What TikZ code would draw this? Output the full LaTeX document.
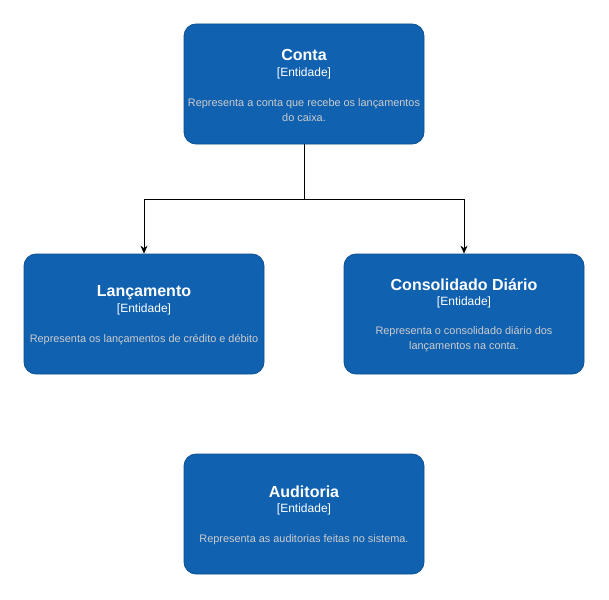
\documentclass[tikz,border=0pt]{standalone}
\usepackage{fontspec}
\setmainfont{Liberation Sans}
\usetikzlibrary{arrows.meta}
\definecolor{c4fill}{HTML}{1061B0}
\definecolor{c4line}{HTML}{0D5091}
\definecolor{c4desc}{HTML}{CCCCCC}
\tikzset{
  entity/.style={draw=c4line, fill=c4fill, rounded corners=12pt, minimum width=240pt, minimum height=120pt, inner sep=0pt, line width=0.8pt},
  title/.style={text=white, font=\fontsize{16}{19}\selectfont\bfseries, inner sep=0pt},
  kind/.style={text=white, font=\fontsize{12}{14}\selectfont, inner sep=0pt},
  desc/.style={text=c4desc, font=\fontsize{10.9}{15}\selectfont, align=center, inner sep=0pt},
  arr/.style={draw=black, line width=0.8pt, -{Stealth[length=8pt,width=7pt]}}
}
\begin{document}
\begin{tikzpicture}[x=1pt,y=-1pt]
\useasboundingbox (0,0) rectangle (609,599);
% boxes
\node[entity] (conta) at (304,84) {};
\node[entity] (lanc) at (144,314) {};
\node[entity] (cons) at (464,314) {};
\node[entity] (aud) at (304,514) {};
% Conta texts
\node[title] (contaT) at (304,55) {Conta};
\node[kind] (contaK) at (304,73) {[Entidade]};
\node[desc] (contaD) at (304,110) {Representa a conta que recebe os lançamentos\\do caixa.};
% Lancamento texts
\node[title] (lancT) at (144,293) {Lançamento};
\node[kind] (lancK) at (144,309.5) {[Entidade]};
\node[desc] (lancD) at (144,339.5) {Representa os lançamentos de crédito e débito};
% Consolidado texts
\node[title] (consT) at (464,285) {Consolidado Diário};
\node[kind] (consK) at (464,302) {[Entidade]};
\node[desc] (consD) at (464,339) {Representa o consolidado diário dos\\lançamentos na conta.};
% Auditoria texts
\node[title] (audT) at (304,492) {Auditoria};
\node[kind] (audK) at (304,509.5) {[Entidade]};
\node[desc] (audD) at (304,539.5) {Representa as auditorias feitas no sistema.};
% connectors
\coordinate (j) at (304,199);
\draw[arr] (conta.south) -- (j) -| (lanc.north);
\draw[arr] (j) -| (cons.north);
\end{tikzpicture}
\end{document}
